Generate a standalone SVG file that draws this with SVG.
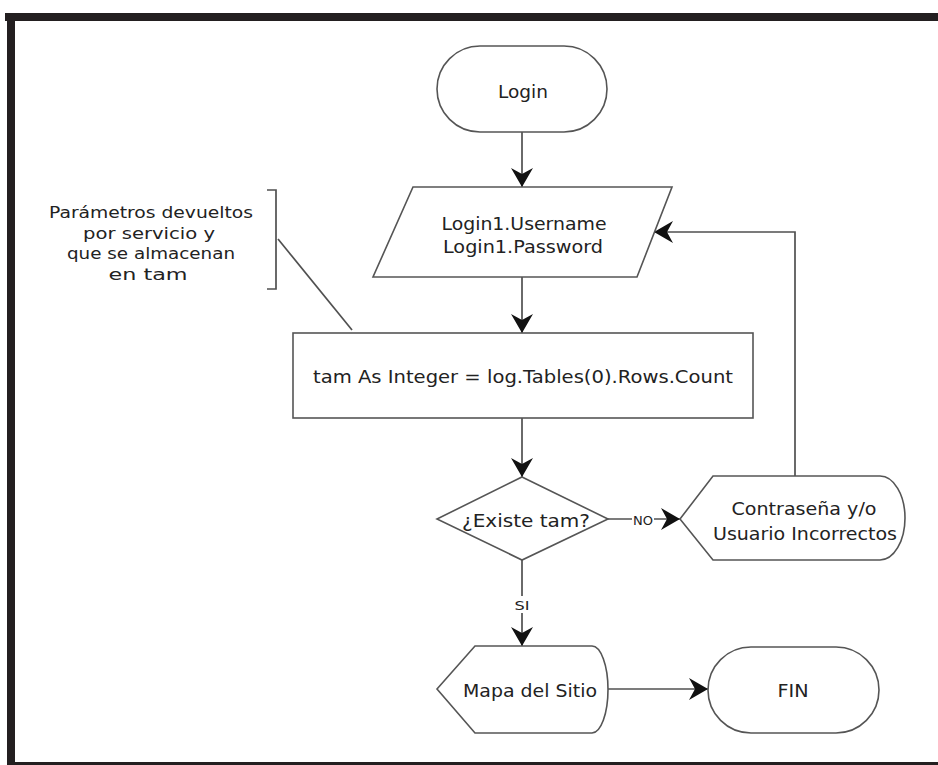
<svg xmlns="http://www.w3.org/2000/svg" width="938" height="765" viewBox="0 0 938 765">
  <style>
    .shape { fill: #ffffff; stroke: #555555; stroke-width: 1.6; }
    .edge { fill: none; stroke: #505050; stroke-width: 1.7; }
    .label { font-family: "DejaVu Sans", Verdana, sans-serif; font-size: 17px; fill: #222222; text-anchor: middle; }
    .note { font-family: "DejaVu Sans", Verdana, sans-serif; font-size: 16px; fill: #222222; text-anchor: middle; }
    .small { font-family: "DejaVu Sans", Verdana, sans-serif; font-size: 13px; fill: #222222; text-anchor: middle; }
  </style>
  <defs>
    <marker id="arrow" markerUnits="userSpaceOnUse" viewBox="-20 -12 22 24" refX="0" refY="0" markerWidth="22" markerHeight="24" orient="auto">
      <path d="M0,0 L-19,-11 L-13,0 L-19,11 Z" fill="#111111"/>
    </marker>
  </defs>

  <rect width="938" height="765" fill="#ffffff"/>

  <!-- page frame -->
  <g id="frame" fill="#231f20">
    <rect x="5" y="13" width="933" height="8"/>
    <rect x="7" y="13" width="8" height="752"/>
    <rect x="7" y="762" width="931" height="3"/>
  </g>

  <!-- connectors -->
  <g id="connectors">
    <line class="edge" x1="522" y1="132" x2="522" y2="187" marker-end="url(#arrow)"/>
    <line class="edge" x1="522" y1="277" x2="522" y2="333" marker-end="url(#arrow)"/>
    <line class="edge" x1="522" y1="418" x2="522" y2="477" marker-end="url(#arrow)"/>
    <line class="edge" x1="608" y1="519" x2="680" y2="519" marker-end="url(#arrow)"/>
    <polyline class="edge" points="795,476 795,232 654,232" marker-end="url(#arrow)"/>
    <line class="edge" x1="522" y1="560" x2="522" y2="646" marker-end="url(#arrow)"/>
    <line class="edge" x1="608" y1="689" x2="708" y2="689" marker-end="url(#arrow)"/>
    <!-- edge labels -->
    <rect x="632" y="511" width="22" height="16" fill="#ffffff"/>
    <text class="small" x="643" y="525" textLength="20" lengthAdjust="spacingAndGlyphs">NO</text>
    <rect x="513" y="596" width="18" height="17" fill="#ffffff"/>
    <text class="small" x="522" y="610" font-size="14" textLength="15" lengthAdjust="spacingAndGlyphs">SI</text>
  </g>

  <!-- annotation -->
  <g id="annotation">
    <path class="edge" d="M267,190 H276 V289 H267" stroke-width="1.5"/>
    <line class="edge" x1="278" y1="239" x2="352" y2="330" stroke-width="1.5"/>
    <text class="note" x="151" y="218" textLength="204" lengthAdjust="spacingAndGlyphs">Parámetros devueltos</text>
    <text class="note" x="149" y="238.5" textLength="132" lengthAdjust="spacingAndGlyphs">por servicio y</text>
    <text class="note" x="151" y="259" textLength="168" lengthAdjust="spacingAndGlyphs">que se almacenan</text>
    <text class="note" x="148" y="280" textLength="79" lengthAdjust="spacingAndGlyphs">en tam</text>
  </g>

  <!-- start -->
  <g id="login">
    <rect class="shape" x="437" y="46" width="170" height="86" rx="43" ry="43"/>
    <text class="label" x="523" y="98" textLength="50" lengthAdjust="spacingAndGlyphs">Login</text>
  </g>

  <!-- input -->
  <g id="input">
    <polygon class="shape" points="413,187 672,187 637,277 373,277"/>
    <text class="label" x="524" y="230" textLength="165" lengthAdjust="spacingAndGlyphs">Login1.Username</text>
    <text class="label" x="523" y="253" textLength="160" lengthAdjust="spacingAndGlyphs">Login1.Password</text>
  </g>

  <!-- process -->
  <g id="process">
    <rect class="shape" x="293" y="333" width="460" height="85"/>
    <text class="label" x="523" y="383" textLength="420" lengthAdjust="spacingAndGlyphs">tam As Integer = log.Tables(0).Rows.Count</text>
  </g>

  <!-- decision -->
  <g id="decision">
    <polygon class="shape" points="522,477 608,519 522,560 437,519"/>
    <text class="label" x="526" y="527" textLength="128" lengthAdjust="spacingAndGlyphs">¿Existe tam?</text>
  </g>

  <!-- error display -->
  <g id="error">
    <path class="shape" d="M680,519 L713,476 H880 A25,42 0 0 1 880,560 H713 Z"/>
    <text class="label" x="804" y="515" textLength="145" lengthAdjust="spacingAndGlyphs">Contraseña y/o</text>
    <text class="label" x="805" y="540" textLength="184" lengthAdjust="spacingAndGlyphs">Usuario Incorrectos</text>
  </g>

  <!-- site map display -->
  <g id="sitemap">
    <path class="shape" d="M437,689 L475,646 H592 A16,43.5 0 0 1 592,733 H475 Z"/>
    <text class="label" x="530" y="697" textLength="134" lengthAdjust="spacingAndGlyphs">Mapa del Sitio</text>
  </g>

  <!-- end -->
  <g id="fin">
    <rect class="shape" x="708" y="647" width="171" height="86" rx="43" ry="43"/>
    <text class="label" x="793" y="697" textLength="31" lengthAdjust="spacingAndGlyphs">FIN</text>
  </g>
</svg>
